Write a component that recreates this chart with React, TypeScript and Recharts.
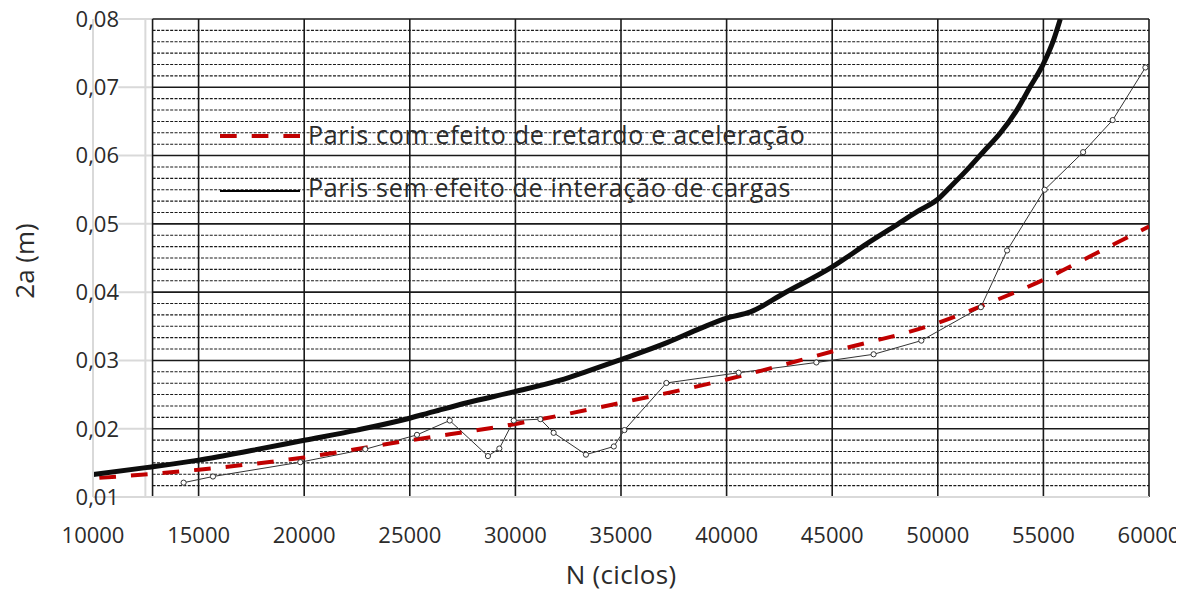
import React from "react";
import {
  LineChart,
  Line,
  XAxis,
  YAxis,
  ReferenceLine,
  Legend,
} from "recharts";

// Crack length 2a (m) versus number of cycles N

const xTicks = [10000, 15000, 20000, 25000, 30000, 35000, 40000, 45000, 50000, 55000, 60000];
const yTicks = [0.01, 0.02, 0.03, 0.04, 0.05, 0.06, 0.07, 0.08];

// Paris without load-interaction effects
const semN = [
  10000, 12500, 15000, 17500, 20000, 22500, 24560, 26130, 27710, 29920, 32130, 33390, 34880,
  37180, 38760, 40000, 41130, 42700, 45000, 46650, 47920, 49020, 50000, 50590, 51380, 52170,
  52960, 53750, 54380, 55010, 55480, 55800,
];
const semA = [
  0.0133, 0.0143, 0.0154, 0.0168, 0.0183, 0.0198, 0.0212, 0.0225, 0.0238, 0.0254, 0.0271, 0.0284,
  0.03, 0.0326, 0.0347, 0.0362, 0.0371, 0.0398, 0.0437, 0.0471, 0.0496, 0.0518, 0.0536, 0.0554,
  0.0579, 0.0606, 0.0633, 0.0667, 0.0701, 0.0735, 0.0769, 0.08,
];

// Paris with retardation and acceleration
const comN = [10300, 15000, 20000, 25000, 30000, 35000, 40000, 45000, 50000, 52500, 55000, 57500, 60000];
const comA = [0.0128, 0.014, 0.0158, 0.0183, 0.0207, 0.0238, 0.0272, 0.0313, 0.0355, 0.0385, 0.0418, 0.0457, 0.0496];

// Measured crack growth
const expN = [
  14290, 15680, 19815, 22890, 25340, 26890, 28700, 29240, 29920, 31180, 31810, 33340, 34660,
  35160, 37150, 40570, 44250, 46960, 49220, 52040, 53280, 55060, 56880, 58280, 59830,
];
const expA = [
  0.0121, 0.013, 0.0151, 0.017, 0.0191, 0.0212, 0.016, 0.0171, 0.0212, 0.0214, 0.0194, 0.0162,
  0.0174, 0.0198, 0.0267, 0.0282, 0.0297, 0.0309, 0.0329, 0.0378, 0.0461, 0.055, 0.0605, 0.0652,
  0.0729,
];

const seriesNames = [
  "Paris com efeito de retardo e aceleração",
  "Paris sem efeito de interação de cargas",
];

const semData = semN.map((n, i) => ({ n, a: semA[i] }));
const comData = comN.map((n, i) => ({ n, a: comA[i] }));
const expData = expN.map((n, i) => ({ n, a: expA[i] }));

// graph-paper overlay
const paperLeft = 12820;
const paperRight = 60000;
const paperVerticals = [15000, 20000, 25000, 30000, 35000, 40000, 45000, 50000, 55000];
const paperMinor: number[] = [];
for (let i = 0; i < yTicks.length - 1; i++) {
  for (let k = 1; k < 6; k++) paperMinor.push(yTicks[i] + (k * 0.01) / 6);
}
const grayLeft = 11200;
const grayVertical = 12480;

const FONT = "'Open Sans', 'Noto Sans', sans-serif";
const TEXT = "#2b2b2b";
const GRAY = "#d9d9d9";

const fmt = (v: number) => v.toFixed(2).replace(".", ",");

const YTick = (p: any) => (
  <text x={p.x + 26} y={p.y} dy="0.355em" textAnchor="end" fontFamily={FONT} fontSize={22} fill={TEXT}>
    {fmt(p.payload.value)}
  </text>
);

const XTick = (p: any) => (
  <text x={p.x} y={p.y + 46} textAnchor="middle" fontFamily={FONT} fontSize={22} fill={TEXT}>
    {p.payload.value}
  </text>
);

const LegendBox = () => (
  <svg width={640} height={110} style={{ overflow: "visible", display: "block" }}>
    <line x1={20} x2={100} y1={36} y2={36} stroke="#c00000" strokeWidth={4} strokeDasharray="16.7 15" />
    <text x={108} y={35} dy="0.355em" fontFamily={FONT} fontSize={25} letterSpacing={0.7} fill={TEXT}>
      {seriesNames[0]}
    </text>
    <line x1={20} x2={100} y1={91} y2={91} stroke="#000" strokeWidth={2} />
    <text x={108} y={88} dy="0.355em" fontFamily={FONT} fontSize={25} letterSpacing={0.7} fill={TEXT}>
      {seriesNames[1]}
    </text>
  </svg>
);

export default function App() {
  return (
    <div style={{ width: 1188, height: 592, background: "#fff", position: "relative" }}>
      <style>{`body{margin:0;background:#fff}`}</style>
      <LineChart
        width={1176}
        height={592}
        margin={{ top: 19, right: 27, bottom: 0, left: 0 }}
      >
        <XAxis
          type="number"
          dataKey="n"
          domain={[10000, 60000]}
          ticks={xTicks}
          allowDataOverflow
          tickLine={false}
          tickSize={0}
          tickMargin={0}
          height={95}
          axisLine={{ stroke: GRAY, strokeWidth: 2 }}
          tick={XTick}
          label={{
            content: (props: any) => {
              const vb = props.viewBox;
              return (
                <text
                  x={vb.x + vb.width / 2}
                  y={584}
                  textAnchor="middle"
                  fontFamily={FONT}
                  fontSize={26}
                  letterSpacing={0.3}
                  fill={TEXT}
                >
                  N (ciclos)
                </text>
              );
            },
          }}
        />
        <YAxis
          type="number"
          dataKey="a"
          domain={[0.01, 0.08]}
          ticks={yTicks}
          allowDataOverflow
          width={93}
          tickLine={false}
          tickSize={0}
          tickMargin={0}
          axisLine={{ stroke: GRAY, strokeWidth: 2 }}
          tick={YTick}
          label={{
            content: (props: any) => {
              const vb = props.viewBox;
              const cy = vb.y + vb.height / 2 + 3;
              return (
                <text
                  x={25}
                  y={cy}
                  transform={`rotate(-90 25 ${cy})`}
                  dy="0.355em"
                  textAnchor="middle"
                  fontFamily={FONT}
                  fontSize={26}
                  fill={TEXT}
                >
                  2a (m)
                </text>
              );
            },
          }}
        />

        {/* light background grid */}
        {yTicks.slice(1).map((v) => (
          <ReferenceLine
            key={`g${v}`}
            segment={[{ x: grayLeft, y: v }, { x: paperLeft, y: v }]}
            stroke={GRAY}
            strokeWidth={2}
          />
        ))}
        <ReferenceLine x={grayVertical} stroke={GRAY} strokeWidth={2} />

        {/* graph paper */}
        {paperMinor.map((v) => (
          <ReferenceLine
            key={`m${v}`}
            segment={[{ x: paperLeft, y: v }, { x: paperRight, y: v }]}
            stroke="#1a1a1a"
            strokeWidth={1.1}
            strokeDasharray="3 1.4"
          />
        ))}
        {yTicks.map((v) => (
          <ReferenceLine
            key={`M${v}`}
            segment={[{ x: paperLeft, y: v }, { x: paperRight, y: v }]}
            stroke="#1a1a1a"
            strokeWidth={1.6}
          />
        ))}
        {[paperLeft, ...paperVerticals, paperRight].map((x) => (
          <ReferenceLine
            key={`v${x}`}
            segment={[{ x, y: 0.01 }, { x, y: 0.08 }]}
            stroke="#1a1a1a"
            strokeWidth={1.6}
          />
        ))}

        <Line
          data={expData}
          dataKey="a"
          type="linear"
          stroke="#333"
          strokeWidth={1}
          dot={{ r: 2.6, stroke: "#333", strokeWidth: 1, fill: "#fff" }}
          isAnimationActive={false}
        />
        <Line
          data={comData}
          dataKey="a"
          name={seriesNames[0]}
          type="monotone"
          stroke="#c00000"
          strokeWidth={4}
          strokeDasharray="16.7 15"
          dot={false}
          isAnimationActive={false}
        />
        <Line
          data={semData}
          dataKey="a"
          name={seriesNames[1]}
          type="monotone"
          stroke="#0d0d0d"
          strokeWidth={5}
          dot={false}
          isAnimationActive={false}
        />
        <Legend
          layout="vertical"
          align="center"
          verticalAlign="middle"
          content={<LegendBox />}
          wrapperStyle={{ position: "absolute", left: 200, top: 100, width: 640, height: 110 }}
        />
      </LineChart>
    </div>
  );
}
